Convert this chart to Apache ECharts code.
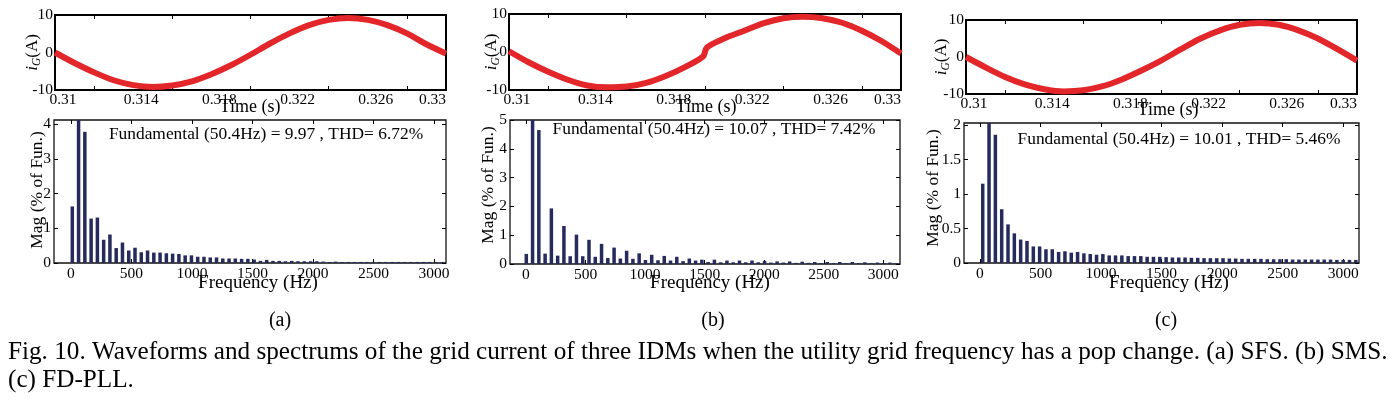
<!DOCTYPE html>
<html><head><meta charset="utf-8">
<script src="https://cdn.jsdelivr.net/npm/echarts@6/dist/echarts.min.js"></script>
<style>html,body{margin:0;padding:0;background:#fff}#c{width:1397px;height:401px}</style>
</head><body><div id="c"></div><script>
// ---------- data ----------
const timeAC = [0.310,0.311,0.312,0.313,0.314,0.315,0.316,0.317,0.318,0.319,0.320,0.321,0.322,0.323,0.324,0.325,0.326,0.327,0.328,0.329,0.330];
const timeB  = [0.310,0.311,0.312,0.313,0.314,0.315,0.316,0.317,0.318,0.319,0.3199,0.3201,0.321,0.322,0.323,0.324,0.325,0.326,0.327,0.328,0.329,0.330];
const waveA = [0,-2.8,-5.3,-7.4,-8.7,-9.2,-8.8,-7.7,-5.8,-3.4,-0.6,2.4,5.1,7.3,8.7,9.2,8.7,7.3,5.1,2.2,-0.3];
const waveB = [0.2,-2.7,-5.2,-7.3,-8.8,-9.3,-9.1,-8.1,-6.3,-3.9,-1.2,1.2,3.6,5.6,7.6,8.9,9.3,8.9,7.7,5.6,2.9,-0.4];
const waveC = [0,-2.8,-5.4,-7.4,-8.7,-9.3,-9.0,-7.9,-6.0,-3.6,-0.9,2.1,5.0,7.2,8.7,9.2,8.7,7.2,5.0,2.1,-1.0];
const timeTickLabels = [0.31,0.314,0.318,0.322,0.326,0.33];
const timeTickMarks = [0.312,0.316,0.32,0.324,0.328];
const waveTicks = [-10,0,10];
const freqTickLabels = [0,500,1000,1500,2000,2500,3000];
// harmonic magnitudes (% of fundamental), harmonic order 0..59 (fundamental = 100, clipped)
const magA = [1.63,100,3.78,1.28,1.31,0.67,0.82,0.43,0.59,0.36,
              0.44,0.31,0.36,0.30,0.30,0.28,0.27,0.26,0.22,0.22,
              0.18,0.18,0.16,0.16,0.13,0.13,0.13,0.12,0.12,0.10,
              0.06,0.09,0.06,0.06,0.05,0.06,0.05,0.05,0.05,0.05,
              0.04,0.03,0.04,0.03,0.03,0.03,0.03,0.03,0.03,0.03,
              0.03,0.03,0.03,0.03,0.03,0.03,0.03,0.03,0.03,0.03];
const magB = [0.35,100,4.65,0.36,1.93,0.29,1.32,0.27,1.02,0.27,
              0.84,0.25,0.70,0.21,0.57,0.19,0.46,0.18,0.37,0.14,
              0.32,0.13,0.28,0.12,0.25,0.10,0.19,0.12,0.15,0.07,
              0.15,0.06,0.12,0.06,0.12,0.06,0.12,0.06,0.11,0.05,
              0.09,0.05,0.09,0.04,0.08,0.04,0.07,0.03,0.07,0.03,
              0.07,0.03,0.07,0.03,0.06,0.03,0.05,0.03,0.05,0.03];
const magC = [1.15,100,1.86,0.78,0.56,0.43,0.34,0.32,0.24,0.24,
              0.20,0.20,0.16,0.17,0.15,0.16,0.14,0.13,0.12,0.13,
              0.11,0.11,0.11,0.10,0.10,0.10,0.09,0.09,0.09,0.085,
              0.08,0.08,0.08,0.075,0.075,0.07,0.07,0.07,0.07,0.065,
              0.065,0.06,0.06,0.06,0.06,0.055,0.055,0.055,0.055,0.05,
              0.05,0.05,0.05,0.05,0.05,0.05,0.045,0.045,0.045,0.045];
const magTicksA = [0,1,2,3,4];
const magTicksB = [0,1,2,3,4,5];
const magTicksC = [0,0.5,1,1.5,2];
const thdTexts = ['Fundamental (50.4Hz) = 9.97 , THD= 6.72%','Fundamental (50.4Hz) = 10.07 , THD= 7.42%','Fundamental (50.4Hz) = 10.01 , THD= 5.46%'];
const subCaptions = ['(a)','(b)','(c)'];
const captionLine1 = 'Fig. 10. Waveforms and spectrums of the grid current of three IDMs when the utility grid frequency has a pop change. (a) SFS. (b) SMS.';
const captionLine2 = '(c) FD-PLL.';

// ---------- layout ----------
const FONT = 'Liberation Serif';
const tickFont = {fontFamily: FONT, fontSize: 15.5, color: '#000'};
const panels = [
  {top:[55,15,391,75], bot:[54,120,392,143], time: timeAC, wave: waveA, mag: magA, magMax: 4.12, magTicks: magTicksA,
   idx:[-2.92,59.6], hz:[-140,3099], yName:33, mName:37, mNameY:190, timeX:250, timeY:107, freqX:258, thd:[266,134], cap:280},
  {top:[509,14,392,76], bot:[510,120,390,144], time: timeB, wave: waveB, mag: magB, magMax: 5.0, magTicks: magTicksB,
   idx:[-2.6,59.6], hz:[-134,3140], yName:492, mName:488, mNameY:185, timeX:706, timeY:107, freqX:710, thd:[714,129], cap:713},
  {top:[966,20,391,74], bot:[964,123,395,140], time: timeAC, wave: waveC, mag: magC, magMax: 2.03, magTicks: magTicksC,
   idx:[-2.96,59.5], hz:[-132,3130], yName:942, mName:933, mNameY:188, timeX:1168, timeY:110, freqX:1169, thd:[1179,139], cap:1166}
];

const grids=[], xAxes=[], yAxes=[], series=[], graphics=[];
function fmtTime(v){ return String(Number(v.toFixed(3))); }
function fmtNum(v){ return String(Number(v.toFixed(2))); }
const noLine = {show:false, onZero:false};

panels.forEach((p, i) => {
  // waveform grid
  const gT = grids.length;
  grids.push({left:p.top[0], top:p.top[1], width:p.top[2], height:p.top[3], show:true, borderColor:'#000', borderWidth:2, outerBoundsMode:'none'});
  const xT = xAxes.length;
  xAxes.push({gridIndex:gT, type:'value', position:'bottom', min:0.31, max:0.33,
    axisLine:noLine, splitLine:{show:false},
    axisTick:{show:true, inside:true, length:4, customValues: timeTickMarks, lineStyle:{color:'#000', width:1}},
    axisLabel:{show:true, customValues: timeTickLabels, formatter: fmtTime, margin:2, padding:[0,0,0,16],
      alignMinLabel:'center', alignMaxLabel:'right', ...tickFont}});
  xAxes.push({gridIndex:gT, type:'value', position:'top', min:0.31, max:0.33,
    axisLine:noLine, splitLine:{show:false}, axisLabel:{show:false},
    axisTick:{show:true, inside:true, length:4, customValues: timeTickMarks, lineStyle:{color:'#000'}}});
  const yT = yAxes.length;
  yAxes.push({gridIndex:gT, type:'value', position:'left', min:-10, max:10,
    axisLine:noLine, splitLine:{show:false},
    axisTick:{show:true, inside:true, length:4, customValues: waveTicks, lineStyle:{color:'#000'}},
    axisLabel:{show:true, customValues: waveTicks, formatter: fmtNum, margin:2, ...tickFont}});
  yAxes.push({gridIndex:gT, type:'value', position:'right', min:-10, max:10,
    axisLine:noLine, splitLine:{show:false}, axisLabel:{show:false},
    axisTick:{show:true, inside:true, length:4, customValues: waveTicks, lineStyle:{color:'#000'}}});
  series.push({type:'line', xAxisIndex:xT, yAxisIndex:yT, data: p.time.map((t,k)=>[t, p.wave[k]]),
    smooth:0.3, showSymbol:false, symbol:'none', clip:true, lineStyle:{color:'#e3262a', width:6}, z:3});

  // spectrum grid
  const gB = grids.length;
  grids.push({left:p.bot[0], top:p.bot[1], width:p.bot[2], height:p.bot[3], show:true, borderColor:'#111', borderWidth:1.3, outerBoundsMode:'none'});
  const xHz = xAxes.length;
  xAxes.push({gridIndex:gB, type:'value', position:'bottom', min:p.hz[0], max:p.hz[1],
    axisLine:noLine, splitLine:{show:false},
    axisTick:{show:true, inside:true, length:4, customValues: freqTickLabels, lineStyle:{color:'#000'}},
    axisLabel:{show:true, customValues: freqTickLabels, formatter: fmtNum, margin:3, ...tickFont}});
  xAxes.push({gridIndex:gB, type:'value', position:'top', min:p.hz[0], max:p.hz[1],
    axisLine:noLine, splitLine:{show:false}, axisLabel:{show:false},
    axisTick:{show:true, inside:true, length:4, customValues: freqTickLabels, lineStyle:{color:'#000'}}});
  const xIdx = xAxes.length;
  xAxes.push({gridIndex:gB, type:'value', position:'bottom', min:p.idx[0], max:p.idx[1], show:false, axisLine:noLine});
  const yB = yAxes.length;
  yAxes.push({gridIndex:gB, type:'value', position:'left', min:0, max:p.magMax,
    axisLine:noLine, splitLine:{show:false},
    axisTick:{show:true, inside:true, length:4, customValues: p.magTicks, lineStyle:{color:'#000'}},
    axisLabel:{show:true, customValues: p.magTicks, formatter: fmtNum, margin:3, ...tickFont}});
  yAxes.push({gridIndex:gB, type:'value', position:'right', min:0, max:p.magMax,
    axisLine:noLine, splitLine:{show:false}, axisLabel:{show:false},
    axisTick:{show:true, inside:true, length:4, customValues: p.magTicks, lineStyle:{color:'#000'}}});
  series.push({type:'bar', xAxisIndex:xIdx, yAxisIndex:yB, data: p.mag.map((v,k)=>[k, v]),
    barWidth:3.5, clip:true, itemStyle:{color:'#262a5c'}, z:2});

  // texts
  graphics.push({type:'text', x:p.yName, y:(p.top[1]+p.top[3]/2), rotation:Math.PI/2,
    style:{text:'{i|i}{g|G}{n|(A)}', align:'center', verticalAlign:'middle',
      rich:{i:{fontFamily:FONT, fontStyle:'italic', fontSize:17, fill:'#000', lineHeight:20},
            g:{fontFamily:FONT, fontStyle:'italic', fontSize:11.5, fill:'#000', lineHeight:20, padding:[7,0,0,0]},
            n:{fontFamily:FONT, fontSize:17, fill:'#000', lineHeight:20}}}});
  graphics.push({type:'text', x:p.mName, y:p.mNameY, rotation:Math.PI/2,
    style:{text:'Mag (% of Fun.)', font:'17.5px "Liberation Serif"', fill:'#000', align:'center', verticalAlign:'middle'}});
  graphics.push({type:'text', x:p.timeX, y:p.timeY,
    style:{text:'Time (s)', font:'18px "Liberation Serif"', fill:'#000', align:'center', verticalAlign:'middle'}});
  graphics.push({type:'text', x:p.freqX, y:283,
    style:{text:'Frequency (Hz)', font:'19px "Liberation Serif"', fill:'#000', align:'center', verticalAlign:'middle'}});
  graphics.push({type:'text', x:p.thd[0], y:p.thd[1],
    style:{text:thdTexts[i], font:'17.4px "Liberation Serif"', fill:'#000', align:'center', verticalAlign:'middle'}});
  graphics.push({type:'text', x:p.cap, y:321,
    style:{text:subCaptions[i], font:'20px "Liberation Serif"', fill:'#000', align:'center', verticalAlign:'middle'}});
});
graphics.push({type:'text', x:8, y:352,
  style:{text:captionLine1, font:'25.2px "Liberation Serif"', fill:'#000', align:'left', verticalAlign:'middle'}});
graphics.push({type:'text', x:8, y:380,
  style:{text:captionLine2, font:'25.2px "Liberation Serif"', fill:'#000', align:'left', verticalAlign:'middle'}});

const chart = echarts.init(document.getElementById('c'), null, {renderer:'canvas'});
chart.setOption({
  animation:false, backgroundColor:'#fff',
  grid: grids, xAxis: xAxes, yAxis: yAxes, series: series, graphic: graphics
});
</script></body></html>
